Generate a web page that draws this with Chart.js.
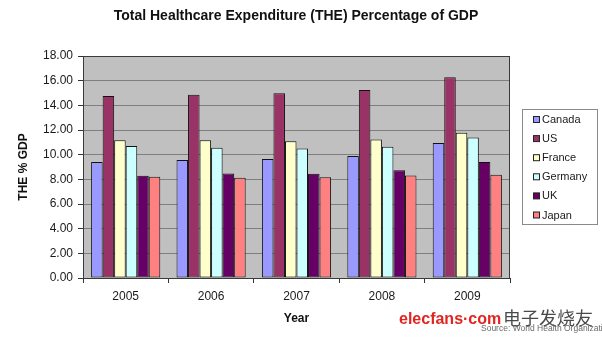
<!DOCTYPE html>
<html>
<head>
<meta charset="utf-8">
<script src="https://cdn.jsdelivr.net/npm/chart.js@4/dist/chart.umd.min.js"></script>
<style>
  html, body { margin: 0; padding: 0; background: #ffffff; }
  #wrap { position: relative; width: 602px; height: 339px; }
  canvas { display: block; }
</style>
</head>
<body>
<div id="wrap"><canvas id="c" width="602" height="339"></canvas></div>
<script>
// Total healthcare expenditure as % of GDP, by country and year
const years = ['2005', '2006', '2007', '2008', '2009'];
const countries = ['Canada', 'US', 'France', 'Germany', 'UK', 'Japan'];
const canada  = [9.41, 9.57, 9.65, 9.89, 10.95];
const us      = [14.76, 14.86, 14.97, 15.24, 16.27];
const france  = [11.16, 11.16, 11.08, 11.22, 11.78];
const germany = [10.70, 10.57, 10.49, 10.65, 11.40];
const uk      = [8.29, 8.48, 8.46, 8.73, 9.41];
const japan   = [8.21, 8.13, 8.16, 8.32, 8.38];
const yTicks  = [0, 2, 4, 6, 8, 10, 12, 14, 16, 18];

const seriesValues = [canada, us, france, germany, uk, japan];
const fills = ['#9999FF', '#993366', '#FFFFCC', '#CCFFFF', '#660066', '#FF8080'];

const FONT = '"Liberation Sans", Arial, sans-serif';

// Grey plot background and dark frame around the plot area
const plotFrame = {
  id: 'plotFrame',
  beforeDraw(chart) {
    const { ctx, chartArea: a } = chart;
    ctx.save();
    ctx.fillStyle = '#C0C0C0';
    ctx.fillRect(a.left, a.top, a.right - a.left, a.bottom - a.top);
    ctx.restore();
  },
  afterDraw(chart) {
    const { ctx, chartArea: a } = chart;
    ctx.save();
    ctx.strokeStyle = '#3a3a3a';
    ctx.lineWidth = 1;
    ctx.strokeRect(Math.round(a.left) + 0.5, Math.round(a.top) + 0.5,
                   Math.round(a.right - a.left) - 1, Math.round(a.bottom - a.top));
    ctx.restore();
  }
};

// Titles, boxed legend and footer texts
const decorations = {
  id: 'decorations',
  afterDraw(chart) {
    const { ctx, chartArea: a } = chart;
    ctx.save();
    ctx.fillStyle = '#111';
    ctx.textAlign = 'center';
    ctx.textBaseline = 'middle';
    ctx.font = 'bold 14px ' + FONT;
    ctx.fillText('Total Healthcare Expenditure (THE) Percentage of GDP', 296, 16);

    ctx.font = 'bold 12px ' + FONT;
    ctx.fillText('Year', (a.left + a.right) / 2, 319);

    ctx.save();
    ctx.translate(24, (a.top + a.bottom) / 2);
    ctx.rotate(-Math.PI / 2);
    ctx.fillText('THE % GDP', 0, 0);
    ctx.restore();

    // legend
    const lx = a.right + 12, ly = 109.5, lw = 75, lh = 115;
    ctx.strokeStyle = '#8a8a8a';
    ctx.lineWidth = 1;
    ctx.strokeRect(Math.round(lx) + 0.5, ly, lw, lh);
    ctx.textAlign = 'left';
    ctx.font = '11px ' + FONT;
    chart.data.datasets.forEach((ds, i) => {
      const cy = 119.5 + i * 19.1;
      ctx.fillStyle = ds.backgroundColor;
      ctx.fillRect(lx + 11.5, cy - 3, 6, 6);
      ctx.strokeStyle = '#222';
      ctx.strokeRect(lx + 11.5, cy - 3, 6, 6);
      ctx.fillStyle = '#1a1a1a';
      ctx.fillText(ds.label, lx + 20, cy + 0.5);
    });

    // footer
    ctx.textBaseline = 'alphabetic';
    ctx.font = 'bold 16px ' + FONT;
    ctx.fillStyle = '#e3231f';
    ctx.fillText('elecfans\u00B7com', 399, 324);
    ctx.font = '18px "Noto Sans CJK SC", sans-serif';
    ctx.fillStyle = '#4a4a4a';
    ctx.fillText('电子发烧友', 503, 325);
    ctx.font = '8.5px ' + FONT;
    ctx.fillStyle = '#6a6a6a';
    ctx.fillText('Source: World Health Organization', 481, 331);
    ctx.restore();
  }
};

new Chart(document.getElementById('c'), {
  type: 'bar',
  data: {
    labels: years,
    datasets: countries.map((name, i) => ({
      label: name,
      data: seriesValues[i],
      backgroundColor: fills[i],
      borderColor: '#111',
      borderWidth: 1,
      borderSkipped: false,
      categoryPercentage: 0.81,
      barPercentage: 1.0
    }))
  },
  options: {
    responsive: false,
    animation: false,
    devicePixelRatio: 1,
    layout: { padding: { left: 0, right: 92, top: 56, bottom: 0 } },
    plugins: {
      legend: { display: false },
      title: { display: false },
      tooltip: { enabled: false }
    },
    scales: {
      x: {
        offset: true,
        grid: {
          offset: true,
          drawOnChartArea: false,
          drawTicks: true,
          tickLength: 5,
          tickColor: '#333'
        },
        border: { display: true, color: '#333' },
        ticks: {
          color: '#1a1a1a',
          font: { family: FONT, size: 12 },
          padding: 6,
          maxRotation: 0
        },
        afterFit(scale) { scale.height = 61; }
      },
      y: {
        min: 0,
        max: 18,
        afterBuildTicks(scale) { scale.ticks = yTicks.map(v => ({ value: v })); },
        grid: {
          color: '#7f7f7f',
          lineWidth: 1,
          drawTicks: true,
          tickLength: 5,
          tickColor: '#333'
        },
        border: { display: true, color: '#333' },
        ticks: {
          color: '#1a1a1a',
          font: { family: FONT, size: 12 },
          padding: 5,
          callback: v => Number(v).toFixed(2)
        },
        afterFit(scale) { scale.width = 83; }
      }
    }
  },
  plugins: [plotFrame, decorations]
});
</script>
</body>
</html>
